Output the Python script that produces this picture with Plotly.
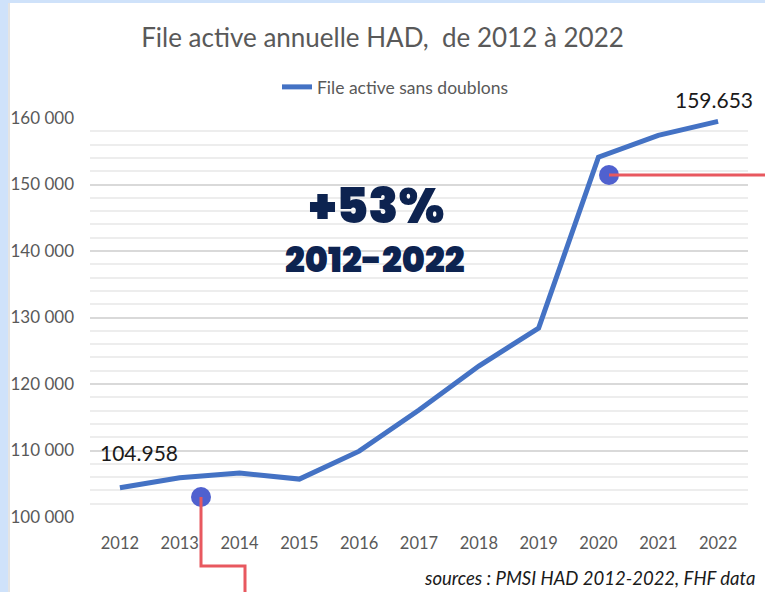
import plotly.graph_objects as go

years = [2012, 2013, 2014, 2015, 2016, 2017, 2018, 2019, 2020, 2021, 2022]
file_active = [104400, 105900, 106600, 105700, 109900, 116100, 122700, 128400, 154100, 157400, 159500]
series_name = "File active sans doublons"
y_ticks = [100000, 110000, 120000, 130000, 140000, 150000, 160000]
y_tick_labels = ["100 000", "110 000", "120 000", "130 000", "140 000", "150 000", "160 000"]
first_label = "104.958"
last_label = "159.653"

W, H = 765, 592
ML, MR, MT, MB = 90, 17, 118, 75
PW, PH = W - ML - MR, H - MT - MB

def px(x):
    return (x - ML) / PW

def py(y):
    return (H - MB - y) / PH

fig = go.Figure()

fig.add_trace(go.Scatter(
    x=years, y=file_active, mode="lines", name=series_name,
    line=dict(color="#4472C4", width=5),
    showlegend=True,
))

font = "Lato, 'Open Sans', sans-serif"

fig.update_layout(
    width=W, height=H,
    margin=dict(l=ML, r=MR, t=MT, b=MB, autoexpand=False),
    paper_bgcolor="white", plot_bgcolor="white",
    title=dict(text="File active annuelle HAD,  de 2012 à 2022", x=0.5, xanchor="center",
               y=1 - 38 / H, yanchor="middle",
               font=dict(family=font, size=26, color="#595959")),
    legend=dict(orientation="h", x=px(277), y=py(87), xanchor="left", yanchor="middle",
                font=dict(family=font, size=17.5, color="#595959"), bgcolor="rgba(0,0,0,0)"),
    xaxis=dict(range=[2011.5, 2022.5], tickmode="array", tickvals=years,
               ticktext=[str(y) for y in years], showgrid=False, zeroline=False,
               showline=False, ticks="", tickfont=dict(family=font, size=16.5, color="#595959"),
               ticklabelstandoff=14),
    yaxis=dict(range=[100000, 160000], tickmode="array", tickvals=y_ticks,
               ticktext=y_tick_labels, showgrid=True, gridcolor="#D9D9D9", gridwidth=1.5,
               zeroline=False, showline=False, ticks="",
               tickfont=dict(family=font, size=17, color="#595959"),
               minor=dict(dtick=2000, showgrid=True, gridcolor="#EDEDED", gridwidth=1.5),
               ticklabelstandoff=15),
    showlegend=True,
)

shapes = []
# window border strips
shapes.append(dict(type="rect", xref="paper", yref="paper", x0=px(0), x1=px(8), y0=py(H), y1=py(0),
                   fillcolor="#CFE2FA", line=dict(width=0), layer="above"))
shapes.append(dict(type="rect", xref="paper", yref="paper", x0=px(0), x1=px(W), y0=py(3), y1=py(0),
                   fillcolor="#CFE2FA", line=dict(width=0), layer="above"))
shapes.append(dict(type="line", xref="paper", yref="paper", x0=px(9), x1=px(9), y0=py(H), y1=py(3),
                   line=dict(color="#C8C8C8", width=1), layer="above"))
# dots
for cx, cy in [(201, 497), (609, 175)]:
    shapes.append(dict(type="circle", xref="paper", yref="paper",
                       x0=px(cx - 10), x1=px(cx + 10), y0=py(cy + 10), y1=py(cy - 10),
                       fillcolor="#5061CF", line=dict(width=0), layer="above"))
# callout lines
red = "#E8585F"
shapes.append(dict(type="path", xref="paper", yref="paper",
                   path=f"M {px(201)},{py(497)} L {px(201)},{py(566)} L {px(245)},{py(566)} L {px(245)},{py(H+2)}",
                   line=dict(color=red, width=3), layer="above"))
shapes.append(dict(type="line", xref="paper", yref="paper", x0=px(609), x1=px(W + 2), y0=py(175), y1=py(175),
                   line=dict(color=red, width=3), layer="above"))
fig.update_layout(shapes=shapes)

big = "Poppins, Inter, Roboto, sans-serif"
anns = [
    dict(text="+53%", x=px(376), y=py(206), font=dict(family=big, size=49, color="#0D2350", weight=900)),
    dict(text="2012-2022", x=px(375), y=py(259), font=dict(family=big, size=35, color="#0D2350", weight=900)),
    dict(text=first_label, x=px(139), y=py(452), font=dict(family=font, size=21, color="#1a1a1a")),
    dict(text=last_label, x=px(714), y=py(100), font=dict(family=font, size=21, color="#1a1a1a")),
]
for a in anns:
    a.update(xref="paper", yref="paper", showarrow=False, xanchor="center", yanchor="middle")
anns.append(dict(text="<i>sources : PMSI HAD 2012-2022, FHF data</i>", xref="paper", yref="paper",
                 x=px(757), y=py(578), xanchor="right", yanchor="middle", showarrow=False,
                 font=dict(family=font, size=18.5, color="#1a1a1a")))
fig.update_layout(annotations=anns)

fig.write_html("out.html", config={"displayModeBar": False},
               post_script="document.body.style.margin='0';document.body.style.padding='0';")
